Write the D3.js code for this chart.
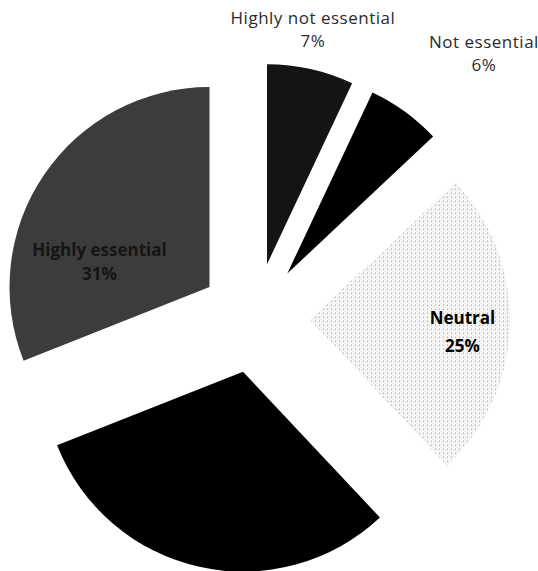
<!DOCTYPE html>
<html lang="en">
<head>
    <meta charset="UTF-8">
    <title>Essentiality pie</title>
    <style>
        body { margin: 0; background: #fff; }
        svg { display: block; }
        .lbl { font-family: "Open Sans", "Noto Sans", sans-serif; }
        .outside { font-size: 17px; fill: #2b2b2b; letter-spacing: 0.5px; }
        .inside { font-size: 17px; font-weight: bold; }
    </style>
</head>
<body>
    <div id="chart"></div>
    <script src="https://d3js.org/d3.v7.min.js"></script>
    <script>
        // slices, clockwise from 12 o'clock
        const categories = ['Highly not essential', 'Not essential', 'Neutral', 'Essential', 'Highly essential'];
        const percents = [7, 6, 25, 31, 31];
        const fills = ['#141414', '#000000', 'url(#dots)', '#000000', '#3c3c3c'];

        const width = 538, height = 571;
        const cx = 255, cy = 318;
        const radius = 200;
        const explode = 55;

        const svg = d3.select("#chart").append("svg")
            .attr("width", width)
            .attr("height", height);

        // speckled light fill for the neutral slice
        const pat = svg.append("defs").append("pattern")
            .attr("id", "dots")
            .attr("width", 4)
            .attr("height", 4)
            .attr("patternUnits", "userSpaceOnUse");
        pat.append("rect").attr("width", 4).attr("height", 4).attr("fill", "#f4f4f4");
        pat.append("rect").attr("x", 1).attr("y", 1).attr("width", 1).attr("height", 1).attr("fill", "#9a9a9a");

        const data = categories.map((c, i) => ({ name: c, value: percents[i], fill: fills[i] }));

        const pie = d3.pie()
            .sort(null)
            .value(d => d.value);

        const arc = d3.arc()
            .innerRadius(0)
            .outerRadius(radius);

        const arcs = pie(data);
        const mid = d => (d.startAngle + d.endAngle) / 2;

        const g = svg.append("g")
            .attr("transform", `translate(${cx},${cy})`);

        const slice = g.selectAll("g.slice")
            .data(arcs)
            .enter().append("g")
            .attr("class", "slice")
            .attr("transform", d => {
                const a = mid(d);
                return `translate(${explode * Math.sin(a)},${-explode * Math.cos(a)})`;
            });

        slice.append("path")
            .attr("d", arc)
            .attr("fill", d => d.data.fill);

        // label placement: angle (deg, clockwise from top), distance from pie centre, line gap
        const labelPlace = {
            'Highly not essential': { deg: 11.4, r: 293, cls: 'outside', dy: 23 },
            'Not essential': { deg: 41, r: 349, cls: 'outside', dy: 23 },
            'Neutral': { deg: 94, r: 208, cls: 'inside', dy: 28 },
            'Highly essential': { deg: 289.5, r: 165, cls: 'inside', dy: 24 }
        };

        const labels = g.selectAll("text.lbl")
            .data(arcs.filter(d => labelPlace[d.data.name]))
            .enter().append("text")
            .attr("class", d => "lbl " + labelPlace[d.data.name].cls)
            .attr("text-anchor", "middle")
            .attr("fill", d => d.data.name === 'Highly essential' ? '#151515' : null)
            .attr("transform", d => {
                const p = labelPlace[d.data.name];
                const a = p.deg * Math.PI / 180;
                return `translate(${p.r * Math.sin(a)},${-p.r * Math.cos(a)})`;
            });

        labels.append("tspan")
            .attr("x", 0)
            .attr("y", d => -labelPlace[d.data.name].dy / 2 + 5)
            .text(d => d.data.name);

        labels.append("tspan")
            .attr("x", 0)
            .attr("y", d => labelPlace[d.data.name].dy / 2 + 5)
            .text(d => d.data.value + "%");
    </script>
</body>
</html>
